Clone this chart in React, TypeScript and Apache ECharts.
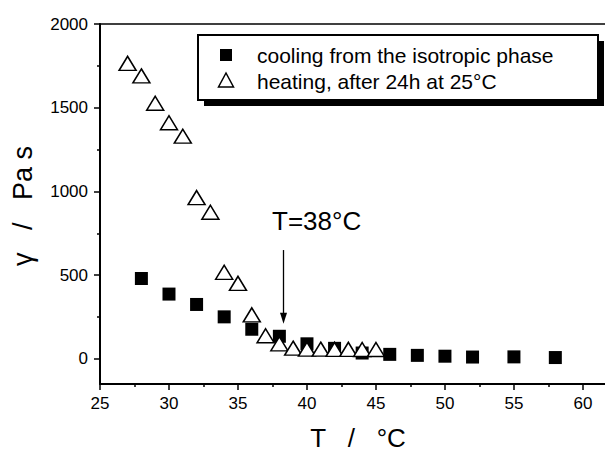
import React, { useEffect, useRef } from "react";
import * as echarts from "echarts";

const coolingT = [28, 30, 32, 34, 36, 38, 40, 42, 44, 46, 48, 50, 52, 55, 58];
const coolingEta = [480, 387, 325, 251, 177, 135, 90, 63, 35, 27, 21, 16, 11, 12, 8];
const heatingT = [27, 28, 29, 30, 31, 32, 33, 34, 35, 36, 37, 38, 39, 40, 41, 42, 43, 44, 45];
const heatingEta = [1765, 1690, 1527, 1410, 1330, 963, 876, 517, 451, 263, 138, 90, 64, 58, 58, 57, 57, 56, 56];

const xTicks = [25, 30, 35, 40, 45, 50, 55, 60];
const xMinorTicks = [27.5, 32.5, 37.5, 42.5, 47.5, 52.5, 57.5];
const yTicks = [0, 500, 1000, 1500, 2000];
const yMinorTicks = [250, 750, 1250, 1750];

const seriesNames = ["cooling from the isotropic phase", "heating, after 24h at 25°C"];
const annotationText = "T=38°C";
const arrowT = 38.3;
const arrowFrom = 650;
const arrowTo = 242;

const FONT = "'Liberation Sans', Arial, Helvetica, sans-serif";
const NB = "\u00A0\u00A0\u00A0";

export default function App() {
  const ref = useRef<HTMLDivElement>(null);
  useEffect(() => {
    if (!ref.current) return;
    const chart = echarts.init(ref.current, null, { renderer: "svg" });
    const xMin = 25, xMax = 61.6, yMin = -150, yMax = 2000;
    const axisCommonX = { type: "value", min: xMin, max: xMax, splitLine: { show: false } };
    const axisCommonY = { type: "value", min: yMin, max: yMax, splitLine: { show: false } };
    const plain = (v: number) => String(v);
    chart.setOption({
      animation: false,
      backgroundColor: "#fff",
      grid: { left: 100, top: 24, right: 0, bottom: 68, containLabel: false },
      xAxis: [
        {
          ...axisCommonX,
          position: "bottom",
          axisLine: { onZero: false, lineStyle: { color: "#000", width: 2 } },
          axisTick: { customValues: xTicks, length: 6, lineStyle: { color: "#000", width: 1.5 } },
          axisLabel: { customValues: xTicks, formatter: plain, fontSize: 17, color: "#000", fontFamily: FONT, margin: 11 },
        },
        {
          ...axisCommonX,
          position: "bottom",
          axisLine: { show: false, onZero: false },
          axisTick: { customValues: xMinorTicks, length: 3, lineStyle: { color: "#000", width: 1.5 } },
          axisLabel: { show: false },
        },
        {
          ...axisCommonX,
          position: "top",
          axisLine: { onZero: false, lineStyle: { color: "#000", width: 1.5 } },
          axisTick: { show: false },
          axisLabel: { show: false },
        },
      ],
      yAxis: [
        {
          ...axisCommonY,
          position: "left",
          axisLine: { show: true, onZero: false, lineStyle: { color: "#000", width: 2 } },
          axisTick: { show: true, customValues: yTicks, length: 6, lineStyle: { color: "#000", width: 1.5 } },
          axisLabel: { customValues: yTicks, formatter: plain, fontSize: 17, color: "#000", fontFamily: FONT, margin: 12 },
        },
        {
          ...axisCommonY,
          position: "left",
          axisLine: { show: false, onZero: false },
          axisTick: { show: true, customValues: yMinorTicks, length: 3, lineStyle: { color: "#000", width: 1.5 } },
          axisLabel: { show: false },
        },
      ],
      series: [
        {
          name: seriesNames[0],
          type: "scatter",
          xAxisIndex: 0,
          yAxisIndex: 0,
          symbol: "rect",
          symbolSize: 13,
          itemStyle: { color: "#000", opacity: 1 },
          emphasis: { disabled: true },
          data: coolingT.map((t, i) => [t, coolingEta[i]]),
          markLine: {
            silent: true,
            symbol: ["none", "triangle"],
            symbolSize: [7, 11],
            label: { show: false },
            lineStyle: { color: "#000", width: 1.3, type: "solid", opacity: 1 },
            data: [[{ coord: [arrowT, arrowFrom] }, { coord: [arrowT, arrowTo] }]],
          },
        },
        {
          name: seriesNames[1],
          type: "scatter",
          xAxisIndex: 0,
          yAxisIndex: 0,
          symbol: "triangle",
          symbolSize: [17, 14],
          itemStyle: { color: "#fff", borderColor: "#000", borderWidth: 1.5, opacity: 1 },
          emphasis: { disabled: true },
          data: heatingT.map((t, i) => [t, heatingEta[i]]),
        },
      ],
      graphic: [
        { type: "rect", z: 10, shape: { x: 204, y: 41, width: 400, height: 65 }, style: { fill: "#000" } },
        { type: "rect", z: 11, shape: { x: 198, y: 35, width: 400, height: 65 }, style: { fill: "#fff", stroke: "#000", lineWidth: 2 } },
        { type: "rect", z: 12, shape: { x: 220, y: 49, width: 12, height: 12 }, style: { fill: "#000" } },
        {
          type: "polygon", z: 12,
          shape: { points: [[226, 73], [218.5, 87], [233.5, 87]] },
          style: { fill: "#fff", stroke: "#000", lineWidth: 1.5 },
        },
        { type: "text", z: 12, x: 257, y: 55, style: { text: seriesNames[0], font: `21px ${FONT}`, fill: "#000", verticalAlign: "middle", align: "left" } },
        { type: "text", z: 12, x: 257, y: 81, style: { text: seriesNames[1], font: `21px ${FONT}`, fill: "#000", verticalAlign: "middle", align: "left" } },
        { type: "text", z: 12, x: 272, y: 221, style: { text: annotationText, font: `26px ${FONT}`, fill: "#000", verticalAlign: "middle", align: "left" } },
        { type: "text", z: 12, x: 358, y: 438, style: { text: `T${NB}/${NB}°C`, font: `26px ${FONT}`, fill: "#000", verticalAlign: "middle", align: "center" } },
        { type: "text", z: 12, x: 23, y: 206, rotation: Math.PI / 2, style: { text: `γ${NB}/${NB}Pa s`, font: `27px ${FONT}`, fill: "#000", verticalAlign: "middle", align: "center" } },
      ],
    });
    return () => chart.dispose();
  }, []);
  return <div ref={ref} style={{ width: 605, height: 452, position: "absolute", left: 0, top: 0 }} />;
}
